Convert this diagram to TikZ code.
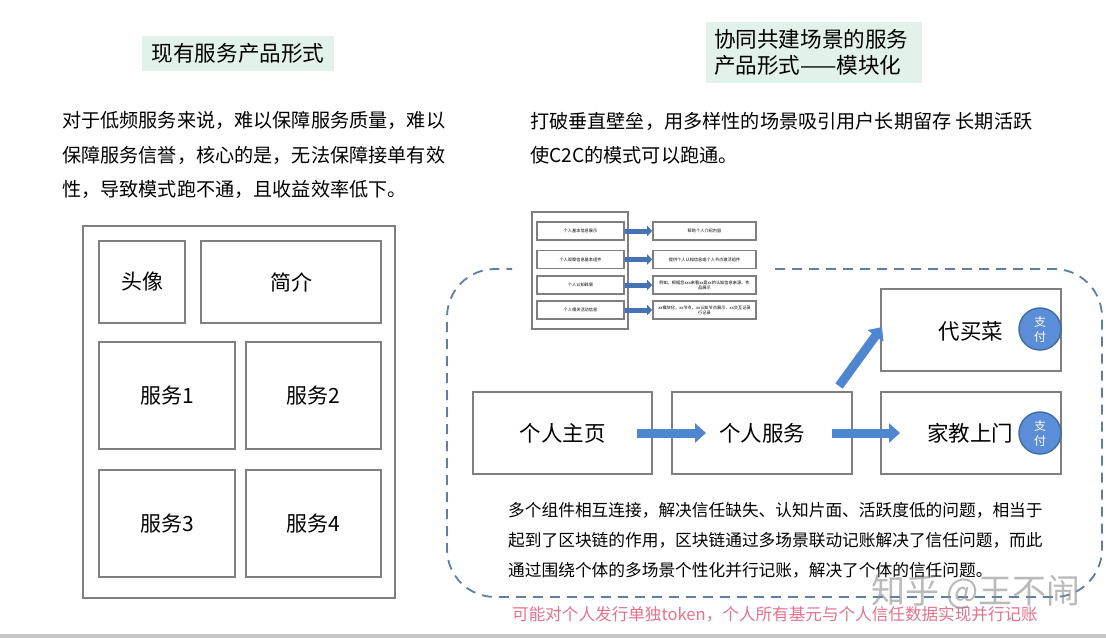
\documentclass[tikz,border=0pt]{standalone}
\usepackage{fontspec}
\setmainfont{Noto Sans CJK SC}
\usepackage[x11names, rgb]{xcolor}
\usetikzlibrary{arrows.meta,positioning}
\definecolor{boxgrey}{HTML}{7F7F7F}
\definecolor{titlegreen}{HTML}{E2F1EA}
\definecolor{arrowblue}{HTML}{4F86D0}
\definecolor{sketchblue}{HTML}{4472B4}
\definecolor{dashblue}{HTML}{5B7FA6}
\definecolor{paypurple}{HTML}{5B8DD9}
\definecolor{paylink}{HTML}{3F6FA5}
\definecolor{notepink}{HTML}{E5728C}

\begin{document}
\begin{tikzpicture}[x=1pt, y=-1pt,
	cell/.style={draw=boxgrey, line width=2pt, inner sep=0pt, font=\fontsize{21}{25}\selectfont},
	tiny/.style={draw=boxgrey, line width=1.6pt, inner sep=0pt, minimum width=#1, minimum height=18pt, align=center, font=\fontsize{4.2}{5}\selectfont},
	titlebox/.style={fill=titlegreen, inner sep=0pt, align=left, font=\fontsize{21.6}{26}\selectfont},
	para/.style={anchor=west, inner sep=0pt, align=left},
	pay/.style={circle, draw=paylink, line width=1.5pt, fill=paypurple, text=white, minimum size=42pt, inner sep=0pt, align=center, font=\fontsize{12}{15}\selectfont},
	bigarrow/.style={draw=arrowblue, line width=9pt, -{Triangle[length=11pt, width=19pt]}},
	smallarrow/.style={draw=sketchblue, line width=5pt, -{Triangle[length=5pt, width=10pt]}}]
	\useasboundingbox (0,0) rectangle (1106,638);
	\fill [black!22] (0,634) rectangle (1106,638);

	% titles
	\node (title1) at (238,53) [titlebox, minimum width=192pt, minimum height=35pt] {现有服务产品形式};
	\node (title2) at (814,52) [titlebox, text width=200pt, inner xsep=8pt, minimum height=61pt] {协同共建场景的服务\\产品形式——模块化};

	\node (left text) at (62,155) [para, font=\fontsize{19.15}{34.5}\selectfont] {对于低频服务来说，难以保障服务质量，难以\\保障服务信誉，核心的是，无法保障接单有效\\性，导致模式跑不通，且收益效率低下。};
	\node (right text) at (530,138) [para, font=\fontsize{19.15}{34.5}\selectfont] {打破垂直壁垒，用多样性的场景吸引用户长期留存 长期活跃\\使C2C的模式可以跑通。};

	% left page
	\node (page) at (239,412) [cell, minimum width=312pt, minimum height=372pt] {};
	\node (avatar) at (142,282) [cell, minimum width=86pt, minimum height=82pt] {头像};
	\node (intro) at (291,282) [cell, minimum width=180pt, minimum height=82pt] {简介};
	\node (service1) at (167,395.5) [cell, minimum width=136pt, minimum height=107pt] {服务1};
	\node (service2) at (313.5,395.5) [cell, minimum width=135pt, minimum height=107pt] {服务2};
	\node (service3) at (167,523.5) [cell, minimum width=136pt, minimum height=107pt] {服务3};
	\node (service4) at (313.5,523.5) [cell, minimum width=135pt, minimum height=107pt] {服务4};

	% small sketch
	\node (sketch) at (580,270.5) [cell, line width=1.6pt, minimum width=96pt, minimum height=117pt] {};
	\node (a1) at (580.5,231) [tiny=87pt] {个人基本信息展示};
	\node (a2) at (580.5,259.5) [tiny=87pt] {个人观察信息基本组件};
	\node (a3) at (580.5,285) [tiny=87pt] {个人认知碎屑};
	\node (a4) at (580.5,310) [tiny=87pt] {个人相关活动信息};
	\node (b1) at (704.5,231) [tiny=103pt] {帮助个人介绍内容};
	\node (b2) at (704.5,259.5) [tiny=103pt] {提供个人认知信息或个人节点激活组件};
	\node (b3) at (704.5,285) [tiny=103pt] {例如，根据您xxx来看xx是xx的认知信息来源，作\\品展示};
	\node (b4) at (704.5,310) [tiny=103pt] {xx模块化，xx节点，xx认知节点展示，xx交互记录\\行记录};
	\foreach \i in {1,...,4}
		\draw [smallarrow] (a\i) -- (b\i);

	% dashed frame, open at the top
	\draw [dashblue, line width=1.8pt, dash pattern=on 10pt off 7pt, rounded corners=48pt] (775,269) -- (1102,269) -- (1102,597) -- (447,597) -- (447,269) -- (512,269);

	% flow
	\node (home) at (562.5,433) [cell, minimum width=179pt, minimum height=82pt] {\fontsize{21.5}{26}\selectfont 个人主页};
	\node (service) at (762,433) [cell, minimum width=180pt, minimum height=82pt] {\fontsize{21.5}{26}\selectfont 个人服务};
	\node (grocery) at (971,330) [cell, minimum width=180pt, minimum height=82pt] {};
	\node (tutor) at (971,433) [cell, minimum width=180pt, minimum height=82pt] {};
	\node (grocery text) at (971,331) [inner sep=0pt, font=\fontsize{21.5}{26}\selectfont] {代买菜};
	\node (tutor text) at (970,433) [inner sep=0pt, font=\fontsize{21.5}{26}\selectfont] {家教上门};
	\node (pay1) at (1040,329) [pay] {支\\付};
	\node (pay2) at (1040,433) [pay] {支\\付};

	\draw [bigarrow] ([xshift=-16pt]home.east) -- ([xshift=35pt]service.west);
	\draw [bigarrow] ([xshift=-21pt]service.east) -- ([xshift=20pt]tutor.west);
	\draw [bigarrow] ([shift={(-14pt,5pt)}]service.north east) -- ([shift={(2pt,3pt)}]grocery.west);

	% notes
	\node (note) at (508,540) [para, font=\fontsize{16.7}{30}\selectfont] {多个组件相互连接，解决信任缺失、认知片面、活跃度低的问题，相当于\\起到了区块链的作用，区块链通过多场景联动记账解决了信任问题，而此\\通过围绕个体的多场景个性化并行记账，解决了个体的信任问题。};
	\node (pink note) at (775,614) [inner sep=0pt, text=notepink, font=\fontsize{16.6}{20}\selectfont] {可能对个人发行单独token，个人所有基元与个人信任数据实现并行记账};
	\node (mark) at (976,592) [inner sep=0pt, text=black!45, opacity=0.6, font=\fontsize{34}{40}\selectfont] {知乎 @王不闹};
\end{tikzpicture}
\end{document}
